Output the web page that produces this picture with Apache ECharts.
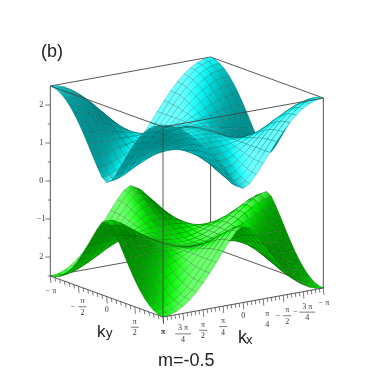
<!DOCTYPE html>
<html>
<head>
<meta charset="utf-8">
<style>
  html, body { margin: 0; padding: 0; background: #fff; }
  #main { width: 374px; height: 374px; }
</style>
<script src="https://cdn.jsdelivr.net/npm/echarts@6/dist/echarts.min.js"></script>
</head>
<body>
<div id="main"></div>
<script>
var PI = Math.PI;

// energy, |kx| and |ky| from 0 to pi in pi/12 steps (sheet is mirror symmetric)
var bandHeights = [
  [1.50, 1.49, 1.45, 1.40, 1.32, 1.23, 1.12, 1.00, 0.87, 0.74, 0.62, 0.53, 0.50],
  [1.49, 1.48, 1.45, 1.39, 1.32, 1.24, 1.13, 1.02, 0.90, 0.79, 0.69, 0.62, 0.59],
  [1.45, 1.45, 1.42, 1.38, 1.32, 1.25, 1.18, 1.09, 1.01, 0.93, 0.87, 0.82, 0.81],
  [1.40, 1.39, 1.38, 1.35, 1.32, 1.28, 1.24, 1.20, 1.16, 1.12, 1.09, 1.07, 1.06],
  [1.32, 1.32, 1.32, 1.32, 1.32, 1.32, 1.32, 1.32, 1.32, 1.32, 1.32, 1.32, 1.32],
  [1.23, 1.24, 1.25, 1.28, 1.32, 1.37, 1.41, 1.45, 1.49, 1.53, 1.55, 1.57, 1.57],
  [1.12, 1.13, 1.18, 1.24, 1.32, 1.41, 1.50, 1.58, 1.66, 1.72, 1.77, 1.79, 1.80],
  [1.00, 1.02, 1.09, 1.20, 1.32, 1.45, 1.58, 1.70, 1.81, 1.89, 1.96, 1.99, 2.01],
  [0.87, 0.90, 1.01, 1.16, 1.32, 1.49, 1.66, 1.81, 1.94, 2.04, 2.12, 2.16, 2.18],
  [0.74, 0.79, 0.93, 1.12, 1.32, 1.53, 1.72, 1.89, 2.04, 2.16, 2.25, 2.30, 2.32],
  [0.62, 0.69, 0.87, 1.09, 1.32, 1.55, 1.77, 1.96, 2.12, 2.25, 2.34, 2.40, 2.42],
  [0.53, 0.62, 0.82, 1.07, 1.32, 1.57, 1.79, 1.99, 2.16, 2.30, 2.40, 2.46, 2.48],
  [0.50, 0.59, 0.81, 1.06, 1.32, 1.57, 1.80, 2.01, 2.18, 2.32, 2.42, 2.48, 2.50]
];

var kxTickValues = [PI, 3*PI/4, PI/2, PI/4, 0, -PI/4, -PI/2, -3*PI/4, -PI];
var kxTickSigns  = ['', '', '', '', '', '', '\u2212', '\u2212', '\u2212'];
var kxTickTops   = ['\u03c0', '3 \u03c0', '\u03c0', '\u03c0', '0', '\u03c0', '\u03c0', '3 \u03c0', '\u03c0'];
var kxTickBottoms = ['', '4', '2', '4', '', '4', '2', '4', ''];
var kxTickBars   = [0, 1, 1, 1, 0, 0, 1, 1, 0];

var kyTickValues = [-PI, -PI/2, 0, PI/2, PI];
var kyTickSigns  = ['\u2212', '\u2212', '', '', ''];
var kyTickTops   = ['\u03c0', '\u03c0', '0', '\u03c0', '\u03c0'];
var kyTickBottoms = ['', '2', '', '2', ''];
var kyTickBars   = [0, 1, 0, 1, 0];

var zTickValues = [-2, -1, 0, 1, 2];
var zTickLabels = ['2', '\u22121', '0', '1', '2'];
var zMinorValues = [-2.5, -1.5, -0.5, 0.5, 1.5];

var zMin = -2.5, zMax = 2.5;

// box edges behind and in front of the two sheets, as [kx, ky, z] pairs
var backEdges = [
  [[-PI, -PI, zMin], [-PI, -PI, zMax]],
  [[-PI, -PI, zMin], [-PI, PI, zMin]],
  [[-PI, -PI, zMin], [PI, -PI, zMin]],
  [[PI, -PI, zMax], [-PI, -PI, zMax]],
  [[-PI, -PI, zMax], [-PI, PI, zMax]]
];
var frontEdges = [
  [[PI, -PI, zMin], [PI, -PI, zMax]],
  [[-PI, PI, zMin], [-PI, PI, zMax]],
  [[PI, PI, zMin], [PI, PI, zMax]],
  [[PI, -PI, zMax], [PI, PI, zMax]],
  [[PI, PI, zMax], [-PI, PI, zMax]],
  [[PI, -PI, zMin], [PI, PI, zMin]],
  [[PI, PI, zMin], [-PI, PI, zMin]]
];

// orthographic box: front bottom corner and the three edge directions, in page units
function plane(kx, ky, z) {
  var s = (PI - kx) / (2 * PI), t = (PI - ky) / (2 * PI);
  return [163 + 160.3 * s - 112.7 * t, 317 - 29 * s - 41 * t - 38 * (z - zMin)];
}

function heightAt(i, j) {
  return bandHeights[Math.abs(i - 12)][Math.abs(j - 12)];
}

function mix(a, b, f) { return Math.round(a + (b - a) * f); }

// light value at a mesh vertex, from the slopes around it
function vertexLight(i, j, sign) {
  var i0 = Math.max(0, i - 1), i1 = Math.min(24, i + 1);
  var j0 = Math.max(0, j - 1), j1 = Math.min(24, j + 1);
  var gain = 24 / 5 * 1.5;
  var dzds = -sign * (heightAt(i1, j) - heightAt(i0, j)) / (i1 - i0) * gain;
  var dzdt = -sign * (heightAt(i, j1) - heightAt(i, j0)) / (j1 - j0) * gain;
  var len = Math.sqrt(dzds * dzds + dzdt * dzdt + 1);
  return 0.9 - 0.72 * Math.abs(dzdt / len) + 0.5 * (dzds / len);
}

function lightColor(base, v) {
  var r, g, b;
  if (v < 0.82) {
    var f = 0.44 + 0.56 * Math.max(0, v - 0.1) / 0.72;
    r = base[0] * f; g = base[1] * f; b = base[2] * f;
  } else {
    var w = Math.min(0.42, (v - 0.82) * 1.3);
    r = mix(base[0], 255, w); g = mix(base[1], 255, w); b = mix(base[2], 255, w);
  }
  return 'rgb(' + Math.round(r) + ',' + Math.round(g) + ',' + Math.round(b) + ')';
}

// back corner first, so nearer cells paint over farther ones
var cells = [];
for (var i = 0; i < 24; i++) {
  for (var j = 0; j < 24; j++) {
    cells.push([i, j]);
  }
}

function sheetSeries(base, sign, order, meshColor) {
  return {
    type: 'custom',
    coordinateSystem: 'cartesian2d',
    silent: true,
    z: order,
    animation: false,
    progressive: 0,
    data: cells,
    renderItem: function (params, api) {
      var i = api.value(0), j = api.value(1);
      var quad = [[i, j], [i + 1, j], [i + 1, j + 1], [i, j + 1]];
      var corners = quad.map(function (c) {
        return api.coord(plane(-PI + c[0] * PI / 12, -PI + c[1] * PI / 12, sign * heightAt(c[0], c[1])));
      });
      var lights = quad.map(function (c) { return vertexLight(c[0], c[1], sign); });
      // gradient along whichever diagonal changes the light most
      var a = Math.abs(lights[0] - lights[2]) >= Math.abs(lights[1] - lights[3]) ? 0 : 1;
      var p = corners[a], q = corners[a + 2];
      var fill = new echarts.graphic.LinearGradient(p[0], p[1], q[0], q[1], [
        { offset: 0, color: lightColor(base, lights[a]) },
        { offset: 1, color: lightColor(base, lights[a + 2]) }
      ], true);
      return {
        type: 'polygon',
        shape: { points: corners },
        style: { fill: fill, stroke: meshColor, lineWidth: 0.5 }
      };
    }
  };
}

function edgeSeries(edges, order) {
  return {
    type: 'custom',
    coordinateSystem: 'cartesian2d',
    silent: true,
    z: order,
    animation: false,
    data: edges.map(function (e, n) { return [n]; }),
    renderItem: function (params, api) {
      var e = edges[api.value(0)];
      var a = api.coord(plane(e[0][0], e[0][1], e[0][2]));
      var b = api.coord(plane(e[1][0], e[1][1], e[1][2]));
      return {
        type: 'line',
        shape: { x1: a[0], y1: a[1], x2: b[0], y2: b[1] },
        style: { stroke: '#444', lineWidth: 0.9 }
      };
    }
  };
}

var tickFont = '8px "Liberation Serif", serif';

function textEl(x, y, text, align) {
  return {
    type: 'text',
    style: { x: x, y: y, text: text, fill: '#333', font: tickFont, align: align || 'center', verticalAlign: 'middle' }
  };
}

// ticks hang from the bottom edge; every nth minor step is a long one
function floorTicks(toPoint, count, every) {
  return {
    type: 'custom',
    coordinateSystem: 'cartesian2d',
    silent: true,
    z: 6,
    animation: false,
    data: Array.apply(null, Array(count + 1)).map(function (d, n) { return [n]; }),
    renderItem: function (params, api) {
      var n = api.value(0);
      var p = api.coord(toPoint(-PI + n * 2 * PI / count));
      var len = n % every === 0 ? 7 : 4;
      return {
        type: 'line',
        shape: { x1: p[0], y1: p[1], x2: p[0] + 0.6, y2: p[1] + len },
        style: { stroke: '#444', lineWidth: 0.7 }
      };
    }
  };
}

function floorLabels(toPoint, values, signs, tops, bottoms, bars) {
  return {
    type: 'custom',
    coordinateSystem: 'cartesian2d',
    silent: true,
    z: 6,
    animation: false,
    data: values.map(function (v, n) { return [n]; }),
    renderItem: function (params, api) {
      var n = api.value(0);
      var p = api.coord(toPoint(values[n]));
      var x = p[0] + (values[n] < 0 ? 4 : 0);
      var y = p[1] + (tops[n] === '0' ? 13.5 : 15);
      var wide = tops[n].length > 1;
      var children = [textEl(x, y, tops[n])];
      if (bottoms[n]) children.push(textEl(x, y + 11.5, bottoms[n]));
      if (bars[n]) {
        children.push({
          type: 'line',
          shape: { x1: x - (wide ? 8 : 4), y1: y + 5.5, x2: x + (wide ? 8 : 4), y2: y + 5.5 },
          style: { stroke: '#444', lineWidth: 0.7 }
        });
      }
      if (signs[n]) {
        var dx = bottoms[n] ? (wide ? 12 : 9.5) : 6.5;
        children.push(textEl(x - dx, bottoms[n] ? y + 5.5 : y, signs[n]));
      }
      return { type: 'group', children: children };
    }
  };
}

function kxPoint(v) { return plane(v, PI, zMin); }
function kyPoint(v) { return plane(PI, v, zMin); }

var zAxisSeries = {
  type: 'custom',
  coordinateSystem: 'cartesian2d',
  silent: true,
  z: 6,
  animation: false,
  data: zTickValues.map(function (v, n) { return [v, n]; }).concat(zMinorValues.map(function (v) { return [v, -1]; })),
  renderItem: function (params, api) {
    var p = api.coord(plane(PI, -PI, api.value(0)));
    var n = api.value(1);
    var tick = {
      type: 'line',
      shape: { x1: p[0] - (n < 0 ? 2.5 : 5), y1: p[1], x2: p[0], y2: p[1] },
      style: { stroke: '#555', lineWidth: 0.8 }
    };
    if (n < 0) return tick;
    return { type: 'group', children: [tick, textEl(p[0] - 9, p[1], zTickLabels[n])] };
  }
};

var myChart = echarts.init(document.getElementById('main'), null, { renderer: 'canvas' });
var option = {
  animation: false,
  backgroundColor: '#fff',
  grid: { left: 0, right: 0, top: 0, bottom: 0 },
  xAxis: { type: 'value', min: 0, max: 374, show: false },
  yAxis: { type: 'value', min: 0, max: 374, inverse: true, show: false },
  graphic: [
    { type: 'text', x: 41, y: 43, style: { text: '(b)', fill: '#222', font: '18px "Liberation Sans", sans-serif' } },
    { type: 'text', x: 97, y: 324, style: { text: 'k', fill: '#222', font: '17px "Liberation Sans", sans-serif' } },
    { type: 'text', x: 106, y: 327, style: { text: 'y', fill: '#222', font: '13px "Liberation Sans", sans-serif' } },
    { type: 'text', x: 238, y: 329, style: { text: 'k', fill: '#222', font: '18px "Liberation Sans", sans-serif' } },
    { type: 'text', x: 246, y: 334, style: { text: 'x', fill: '#222', font: '13px "Liberation Sans", sans-serif' } },
    { type: 'text', x: 158, y: 352, style: { text: 'm=-0.5', fill: '#222', font: '18px "Liberation Sans", sans-serif' } }
  ],
  series: [
    edgeSeries(backEdges, 1),
    sheetSeries([0, 255, 0], -1, 2, 'rgba(0,60,0,0.4)'),
    sheetSeries([0, 255, 255], 1, 3, 'rgba(0,60,60,0.4)'),
    edgeSeries(frontEdges, 5),
    floorTicks(kxPoint, 40, 5),
    floorTicks(kyPoint, 24, 6),
    floorLabels(kxPoint, kxTickValues, kxTickSigns, kxTickTops, kxTickBottoms, kxTickBars),
    floorLabels(kyPoint, kyTickValues, kyTickSigns, kyTickTops, kyTickBottoms, kyTickBars),
    zAxisSeries
  ]
};
myChart.setOption(option);
</script>
</body>
</html>
